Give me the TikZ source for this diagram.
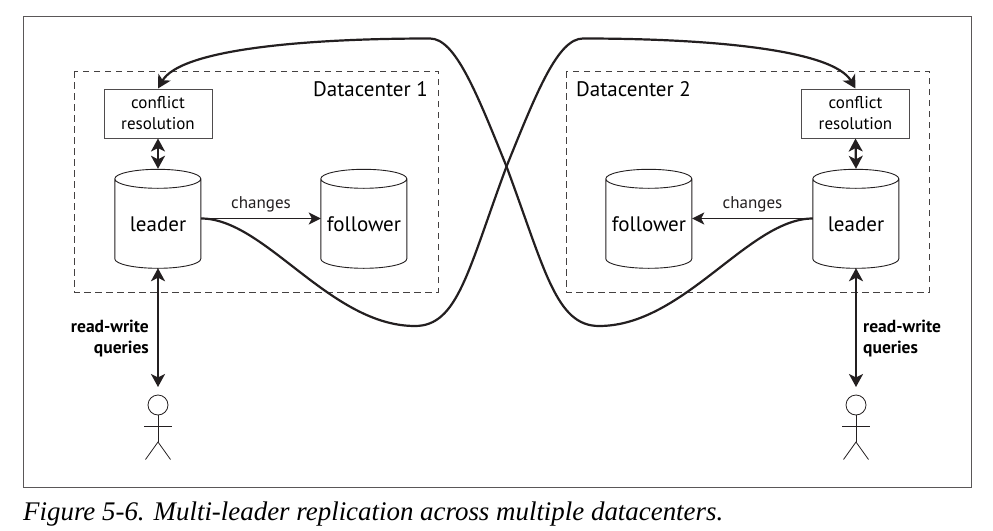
\documentclass[tikz,border=0pt]{standalone}
\usepackage{fontspec}
\setmainfont{PT Sans}
\newfontfamily\capfont{Liberation Serif}
\usetikzlibrary{arrows.meta}
\definecolor{ink}{HTML}{231F20}
\tikzset{
  frame/.style={draw=ink!75,line width=1pt},
  dc/.style={draw=ink!85,line width=0.8pt,dash pattern=on 6.5pt off 4.5pt},
  crbox/.style={draw=ink!80,line width=1pt,minimum width=108pt,minimum height=49pt,align=center,font=\fontsize{17}{21}\selectfont,inner sep=0pt},
  db/.style={minimum width=86pt,minimum height=99pt,inner sep=0pt},
  cyl/.style={draw=ink,line width=0.9pt},
  conn/.style={ink,line width=1.9pt,-{Stealth[length=12pt,width=12pt,inset=3pt]}},
  thick conn/.style={ink,line width=2.2pt,{Stealth[length=13pt,width=14pt,inset=3.5pt]}-{Stealth[length=13pt,width=14pt,inset=3.5pt]}},
  loopline/.style={ink,line width=2.2pt,-{Stealth[length=13pt,width=14pt,inset=3.5pt]}},
  lbl/.style={font=\fontsize{17}{20}\selectfont,inner sep=0pt},
  dcl/.style={font=\fontsize{21}{25}\selectfont,inner sep=0pt},
  rw/.style={font=\bfseries\fontsize{17.5}{21}\selectfont,inner sep=0pt},
  stick/.style={draw=ink,line width=0.8pt},
}
\begin{document}
\begin{tikzpicture}[x=1pt,y=-1pt]
\useasboundingbox (0,0) rectangle (993,530);
\draw[frame] (23,16) rectangle (971,487);
\draw[dc] (74,71) rectangle (438,292);
\draw[dc] (566,71) rectangle (929,292);
\node[dcl,anchor=base east] (d1) at (428,96) {Datacenter 1};
\node[dcl,anchor=base west] (d2) at (576,96) {Datacenter 2};
\node[crbox] (c1) at (158,113.5) {conflict\\resolution};
\node[crbox] (c2) at (855.5,113.5) {conflict\\resolution};
\node[db] (l1) at (158,218.5) {};
\node[db] (f1) at (364,218.5) {};
\node[db] (l2) at (856,218.5) {};
\node[db] (f2) at (649,218.5) {};
\foreach \c in {l1,f1,l2,f2}{
  \draw[cyl] (\c.north west) ++(0,10) arc[start angle=180,end angle=540,x radius=43pt,y radius=9.5pt]
    -- ++(0,80) arc[start angle=180,end angle=360,x radius=43pt,y radius=9.5pt] -- ++(0,-80);
}
\node[dcl,anchor=base] (tl1) at (158,231) {leader};
\node[dcl,anchor=base] (tf1) at (364,231) {follower};
\node[dcl,anchor=base] (tl2) at (856,231) {leader};
\node[dcl,anchor=base] (tf2) at (649,231) {follower};
\draw[thick conn] (c1.south) -- (l1.north);
\draw[thick conn] (c2.south) -- (l2.north);
\draw[conn] (l1.east) -- (f1.west) node[midway,above=5pt,lbl] (ch1) {changes};
\draw[conn] (l2.west) -- (f2.east) node[midway,above=5pt,lbl] (ch2) {changes};
\coordinate (p1) at (158,387);
\coordinate (p2) at (856,387);
\draw[thick conn] (l1.south) -- (p1);
\draw[thick conn] (l2.south) -- (p2);
\node[rw,align=right,anchor=north east] (q1) at (149,320) {read-write\\queries};
\node[rw,align=left,anchor=north west] (q2) at (863,320) {read-write\\queries};
\draw[loopline] (l1.east) .. controls (265,218.5) and (330,326) .. (415,326)
  .. controls (458,326) and (468,270) .. (506.5,166.5)
  .. controls (537,91) and (558,38.5) .. (583,38.5)
  .. controls (713,38.5) and (833,50) .. (c2.north);
\draw[loopline] (l2.west) .. controls (749,218.5) and (684,326) .. (599,326)
  .. controls (556,326) and (545,270) .. (506.5,166.5)
  .. controls (476,91) and (455,38.5) .. (430,38.5)
  .. controls (300,38.5) and (180,50) .. (c1.north);
\foreach \n/\x in {a/158,b/856}{
  \node[stick,circle,minimum size=20pt,inner sep=0pt] (h\n) at (\x,405) {};
  \coordinate (g\n) at (\x,442);
  \draw[stick] (h\n.south) -- (g\n);
  \draw[stick] (\x-14,426) -- (\x+14,426);
  \draw[stick] (\x-12.5,459.5) -- (g\n) -- (\x+12.5,459.5);
}
\node[font=\capfont\itshape\fontsize{26.9}{30}\selectfont,anchor=base west,inner sep=0pt] (cap) at (23,520) {Figure 5-6. Multi-leader replication across multiple datacenters.};
\end{tikzpicture}
\end{document}
